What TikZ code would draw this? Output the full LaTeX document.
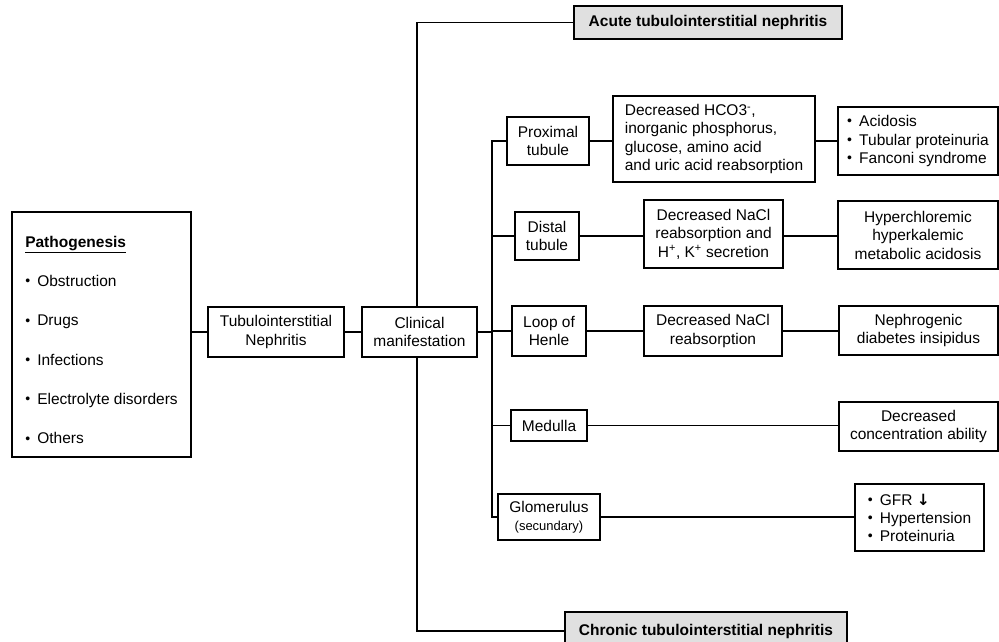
\documentclass[tikz,border=0pt]{standalone}
\usepackage{fontspec}
\setmainfont{Liberation Sans}
\newfontfamily\arrfont{DejaVu Sans}
\usetikzlibrary{calc}
\newcommand{\bul}{\makebox[12pt][l]{\raisebox{0.6pt}{\fontsize{14}{14}\selectfont •}}}
\begin{document}
\begin{tikzpicture}[x=1pt,y=-1pt,
  box/.style={draw, line width=1.1pt, inner sep=0pt, align=center, font=\fontsize{15.5}{18.5}\selectfont},
  gbox/.style={box, fill=black!12, font=\fontsize{15.5}{18.5}\selectfont\bfseries},
  ln/.style={line width=1.1pt}]
\useasboundingbox (0,0) rectangle (999,642);
\fill[white] (0,0) rectangle (999,642);

% left part
\node[box, minimum width=179pt, minimum height=245pt, align=left] (patho) at (101.5,334.5)
  {\rule{0pt}{22pt}\underline{\textbf{Pathogenesis}}\\[20.8pt]\bul Obstruction\\[20.8pt]\bul Drugs\\[20.8pt]\bul Infections\\[20.8pt]\bul Electrolyte disorders\\[20.8pt]\bul Others};
\node[box, minimum width=136pt, minimum height=50pt] (tin) at (276,332) {Tubulointerstitial\\Nephritis};
\node[box, minimum width=115pt, minimum height=50pt] (clin) at (419.5,332) {Clinical\\manifestation};

% acute / chronic
\node[gbox, minimum width=268pt, minimum height=33pt] (acute) at (708,22.5) {Acute tubulointerstitial nephritis};
\node[gbox, minimum width=282pt, minimum height=38pt] (chronic) at (706,631) {Chronic tubulointerstitial nephritis};

% sites
\node[box, minimum width=82pt, minimum height=48pt] (prox) at (548,141) {Proximal\\tubule};
\node[box, minimum width=64pt, minimum height=48pt] (dist) at (547,236) {Distal\\tubule};
\node[box, minimum width=74pt, minimum height=50pt] (loop) at (549,331) {Loop of\\Henle};
\node[box, minimum width=76pt, minimum height=31pt] (med) at (549,425.5) {Medulla};
\node[box, minimum width=102pt, minimum height=46pt] (glom) at (549,517) {Glomerulus\\[-1pt]{\fontsize{13}{15}\selectfont (secundary)}};

% mechanisms
\node[box, minimum width=202pt, minimum height=86pt, align=left] (hco3) at (714,139)
  {Decreased HCO3\textsuperscript{-},\\inorganic phosphorus,\\glucose, amino acid\\and uric acid reabsorption};
\node[box, minimum width=139pt, minimum height=68pt] (nacl1) at (713.5,234)
  {Decreased NaCl\\reabsorption and\\H\textsuperscript{+}, K\textsuperscript{+} secretion};
\node[box, minimum width=138pt, minimum height=50pt] (nacl2) at (713,331) {Decreased NaCl\\reabsorption};

% outcomes
\node[box, minimum width=160pt, minimum height=68pt, align=left] (acid) at (918,141)
  {\bul Acidosis\\\bul Tubular proteinuria\\\bul Fanconi syndrome};
\node[box, minimum width=160pt, minimum height=68pt] (hyper) at (918,235)
  {Hyperchloremic\\hyperkalemic\\metabolic acidosis};
\node[box, minimum width=159pt, minimum height=49pt] (nephro) at (918.5,330.5)
  {Nephrogenic\\diabetes insipidus};
\node[box, minimum width=159pt, minimum height=49pt] (conc) at (918.5,426.5)
  {Decreased\\concentration ability};
\node[box, minimum width=129pt, minimum height=67pt, align=left, font=\fontsize{15.5}{18}\selectfont] (gfr) at (919.5,517.5)
  {\bul GFR {\arrfont\bfseries ↓}\\\bul Hypertension\\\bul Proteinuria};

% connectors
\coordinate (trunk) at (417,332);
\coordinate (bus) at (492,332);
\draw[ln] (tin.west -| patho.east) -- (tin.west);
\draw[ln] (tin.east) -- (clin.west);
\draw[ln] (acute.west) -| (trunk |- clin.north);
\draw[ln] (chronic.west) -| (trunk |- clin.south);
\draw[ln] (clin.east) -- (bus);
\draw[ln] (prox.west) -| (bus) |- (glom.west);
\draw[ln] (dist.west) -- (dist.west -| bus);
\draw[ln] (loop.west) -- (loop.west -| bus);
\draw[ln] (med.west) -- (med.west -| bus);
\draw[ln] (prox.east) -- (prox.east -| hco3.west);
\draw[ln] (prox.east -| hco3.east) -- (prox.east -| acid.west);
\draw[ln] (dist.east) -- (dist.east -| nacl1.west);
\draw[ln] (dist.east -| nacl1.east) -- (dist.east -| hyper.west);
\draw[ln] (loop.east) -- (loop.east -| nacl2.west);
\draw[ln] (loop.east -| nacl2.east) -- (loop.east -| nephro.west);
\draw[ln] (med.east) -- (med.east -| conc.west);
\draw[ln] (glom.east) -- (glom.east -| gfr.west);
\end{tikzpicture}
\end{document}
